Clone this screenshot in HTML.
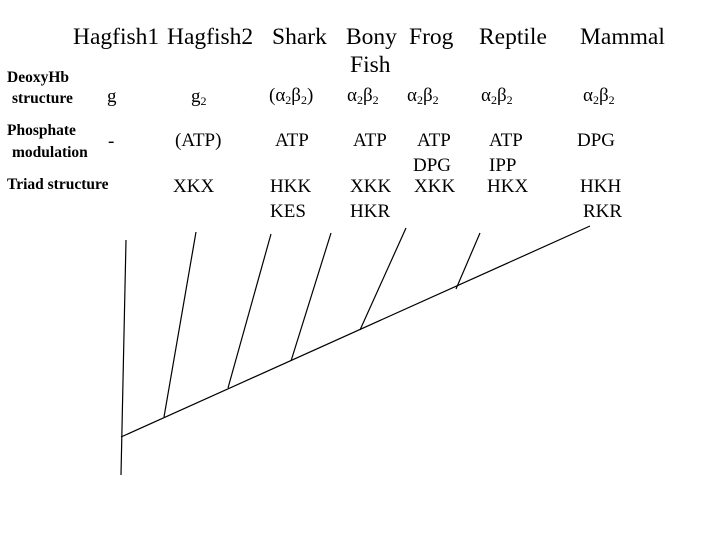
<!DOCTYPE html>
<html><head><style>
body{margin:0;background:#fff}
svg{display:block}
text{font-family:"Liberation Serif",serif;fill:#000}
.h{font-size:23.5px}
.l{font-size:15.5px;font-weight:bold}
.v{font-size:19px}
.s{font-size:12px}
</style></head><body>
<svg width="720" height="540" xmlns="http://www.w3.org/2000/svg">
<text x="73" y="44" class="h">Hagfish1</text>
<text x="167" y="44" class="h">Hagfish2</text>
<text x="272" y="44" class="h">Shark</text>
<text x="346" y="44" class="h">Bony</text>
<text x="350" y="72" class="h">Fish</text>
<text x="409" y="44" class="h">Frog</text>
<text x="479" y="44" class="h">Reptile</text>
<text x="580" y="44" class="h">Mammal</text>

<text x="7" y="82" class="l">DeoxyHb</text>
<text x="12" y="103" class="l">structure</text>
<text x="7" y="135" class="l">Phosphate</text>
<text x="12" y="157" class="l">modulation</text>
<text x="7" y="189" class="l">Triad structure</text>

<text x="107" y="102" class="v">g</text>
<text x="191" y="102" class="v">g<tspan class="s" dy="3">2</tspan></text>
<text x="269" y="101" class="v">(α<tspan class="s" dy="3">2</tspan><tspan dy="-3">β</tspan><tspan class="s" dy="3">2</tspan><tspan dy="-3">)</tspan></text>
<text x="347" y="101" class="v">α<tspan class="s" dy="3">2</tspan><tspan dy="-3">β</tspan><tspan class="s" dy="3">2</tspan></text>
<text x="407" y="101" class="v">α<tspan class="s" dy="3">2</tspan><tspan dy="-3">β</tspan><tspan class="s" dy="3">2</tspan></text>
<text x="481" y="101" class="v">α<tspan class="s" dy="3">2</tspan><tspan dy="-3">β</tspan><tspan class="s" dy="3">2</tspan></text>
<text x="583" y="101" class="v">α<tspan class="s" dy="3">2</tspan><tspan dy="-3">β</tspan><tspan class="s" dy="3">2</tspan></text>

<text x="108" y="147" class="v">-</text>
<text x="175" y="146" class="v">(ATP)</text>
<text x="275" y="146" class="v">ATP</text>
<text x="353" y="146" class="v">ATP</text>
<text x="417" y="146" class="v">ATP</text>
<text x="489" y="146" class="v">ATP</text>
<text x="577" y="146" class="v">DPG</text>
<text x="413" y="171" class="v">DPG</text>
<text x="489" y="171" class="v">IPP</text>

<text x="173" y="192" class="v">XKX</text>
<text x="270" y="192" class="v">HKK</text>
<text x="270" y="217" class="v">KES</text>
<text x="350" y="192" class="v">XKK</text>
<text x="350" y="217" class="v">HKR</text>
<text x="414" y="192" class="v">XKK</text>
<text x="487" y="192" class="v">HKX</text>
<text x="580" y="192" class="v">HKH</text>
<text x="583" y="217" class="v">RKR</text>

<g stroke="#000" stroke-width="1.2" fill="none">
<line x1="126" y1="240" x2="121" y2="475"/>
<line x1="121" y1="437" x2="590" y2="226"/>
<line x1="196" y1="232" x2="164" y2="417"/>
<line x1="271" y1="234" x2="228" y2="388"/>
<line x1="331" y1="233" x2="291" y2="361"/>
<line x1="406" y1="228" x2="360" y2="330"/>
<line x1="480" y1="233" x2="456" y2="289"/>
</g>
</svg>
</body></html>
